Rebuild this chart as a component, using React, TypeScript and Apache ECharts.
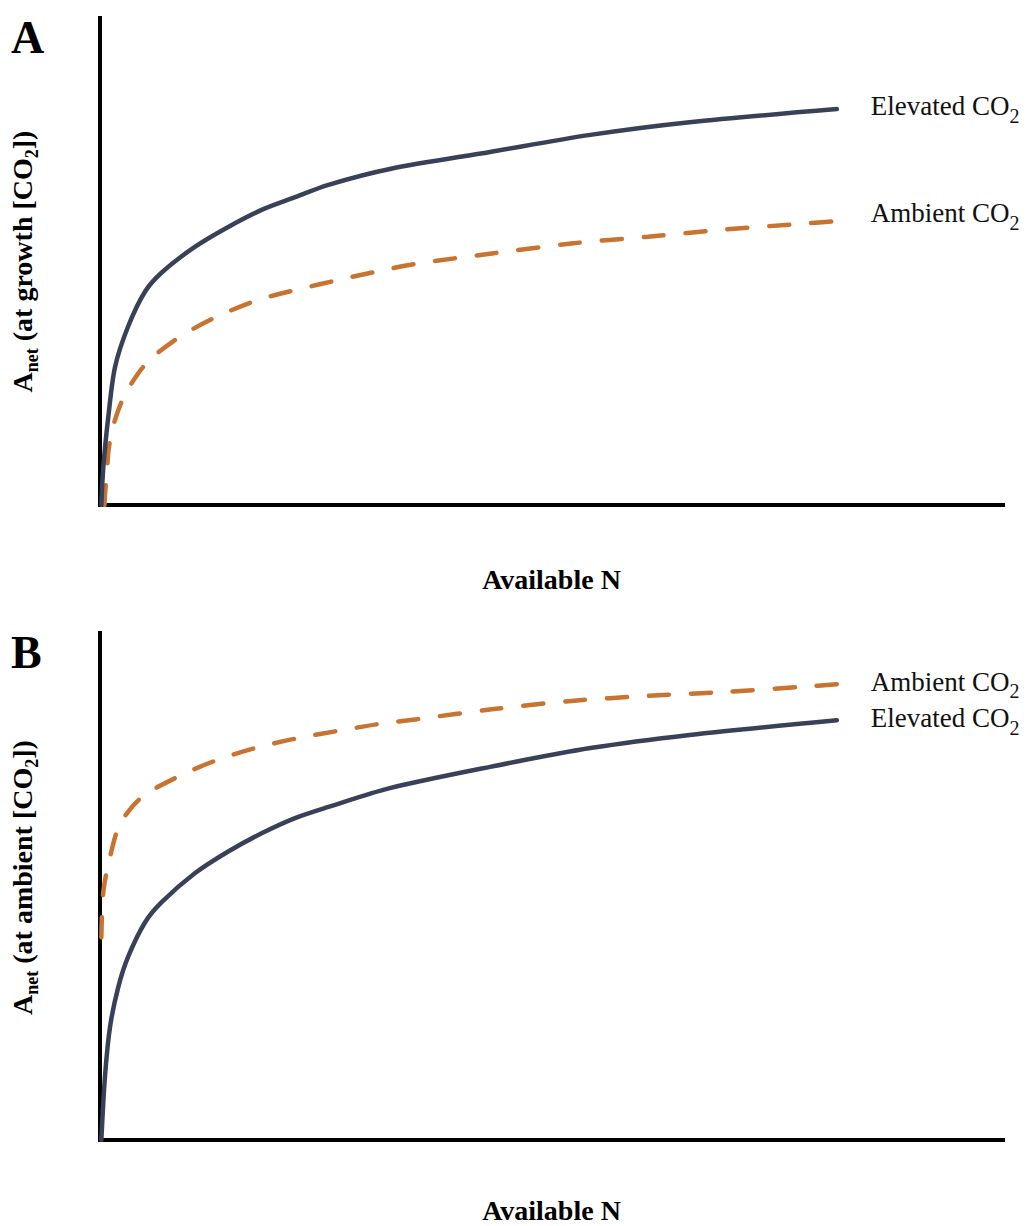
import React, { useEffect, useRef } from "react";
import * as echarts from "echarts";

// Panel A: Anet at growth [CO2]
const elevA_N = [0.15, 0.37, 0.92, 1.66, 3.1, 4.98, 6.87, 10.5, 14.2, 17.9, 21.6, 25.2, 32.1, 43.2, 54.3, 65.3, 81.6];
const elevA_Anet = [0, 7.8, 18.1, 28.3, 36.6, 43.8, 47.8, 53.0, 57.1, 60.6, 63.2, 65.7, 69.0, 72.5, 76.0, 78.6, 81.3];
const ambA_N = [0.5, 0.55, 0.8, 0.95, 1.3, 1.84, 2.58, 3.5, 4.8, 6.1, 9.05, 13.1, 17.5, 22.0, 26.4, 30.8, 34.9, 43.6, 52.2, 60.7, 69.4, 78.1, 81.6];
const ambA_Anet = [0, 2, 7.8, 11.3, 15, 18.5, 22, 25, 28.4, 30.8, 34.8, 38.8, 42.1, 44.3, 46.2, 48.0, 49.5, 51.7, 53.7, 55.1, 56.6, 57.8, 58.3];

// Panel B: Anet at ambient [CO2]
const elevB_N = [0.15, 0.55, 1.11, 2.03, 3.13, 4.98, 6.83, 10.5, 14.2, 17.9, 21.6, 25.3, 32.1, 43.2, 54.3, 65.3, 81.6];
const elevB_Anet = [0, 12.5, 22.3, 30.2, 36.2, 42.9, 46.9, 52.6, 56.9, 60.5, 63.5, 65.7, 69.4, 73.6, 77.3, 79.9, 82.8];
const ambB_N = [0.15, 0.37, 1.11, 2.21, 4.62, 9.05, 13.2, 17.6, 22.0, 26.4, 30.7, 35.1, 43.6, 52.2, 60.7, 69.4, 77.9, 81.6];
const ambB_Anet = [40.0, 49.0, 55.8, 62.3, 67.6, 72.0, 75.1, 77.5, 79.3, 80.7, 82.0, 83.0, 85.0, 86.6, 87.6, 88.4, 89.4, 89.9];

const panelLetters = ["A", "B"];
const xTitle = "Available N";
const yTitles = [
  "{b|A}{s|net}{b| (at growth [CO}{s|2}{b|])}",
  "{b|A}{s|net}{b| (at ambient [CO}{s|2}{b|])}",
];
const elevLabel = "{n|Elevated CO}{s|2}";
const ambLabel = "{n|Ambient CO}{s|2}";

const SERIF = "'Liberation Serif', 'Times New Roman', serif";
const SOLID = "#394158";
const DASH = "#c8732f";

const pairs = (xs: number[], ys: number[]) => xs.map((x, i) => [x, ys[i]]);

const labelRich = {
  n: { fontFamily: SERIF, fontSize: 27, color: "#111", lineHeight: 30 },
  s: { fontFamily: SERIF, fontSize: 20, color: "#111", lineHeight: 30, padding: [19, 0, 0, 0] },
};
const titleRich = {
  b: { fontFamily: SERIF, fontSize: 28, fontWeight: "bold", color: "#000", lineHeight: 32 },
  s: { fontFamily: SERIF, fontSize: 18, fontWeight: "bold", color: "#000", lineHeight: 32, padding: [20, 0, 0, 0] },
};

export default function App() {
  const ref = useRef<HTMLDivElement>(null);
  useEffect(() => {
    document.body.style.margin = "0";
    document.body.style.overflow = "hidden";
    const chart = echarts.init(ref.current!, null, { renderer: "svg" });

    const axisLine = { show: true, lineStyle: { color: "#000", width: 4, cap: "square" } };
    const mkX = (gridIndex: number, gap: number) => ({
      gridIndex,
      type: "value",
      min: 0,
      max: 100,
      axisLine,
      axisTick: { show: false },
      axisLabel: { show: false },
      splitLine: { show: false },
      name: xTitle,
      nameLocation: "middle",
      nameGap: gap,
      nameTextStyle: { fontFamily: SERIF, fontWeight: "bold", fontSize: 28, color: "#000" },
    });
    const mkY = (gridIndex: number, pad: number) => ({
      gridIndex,
      type: "value",
      min: 0,
      max: 100,
      axisLine,
      axisTick: { show: false },
      axisLabel: { show: false },
      splitLine: { show: false },
      name: yTitles[gridIndex],
      nameLocation: "middle",
      nameRotate: 90,
      nameGap: 62,
      nameTextStyle: { rich: titleRich, padding: [0, 0, 0, pad] },
    });
    const mkLine = (
      xi: number,
      data: number[][],
      dashed: boolean,
      label: string,
      offY: number
    ) => ({
      type: "line",
      xAxisIndex: xi,
      yAxisIndex: xi,
      data,
      showSymbol: false,
      smooth: 0.3,
      lineStyle: {
        color: dashed ? DASH : SOLID,
        width: 4.5,
        type: dashed ? [20, 22] : "solid",
        cap: "round",
      },
      endLabel: {
        show: true,
        formatter: label,
        distance: 34,
        offset: [0, offY],
        rich: labelRich,
      },
      z: dashed ? 2 : 3,
    });

    chart.setOption({
      animation: false,
      backgroundColor: "#fff",
      grid: [
        { left: 100, top: 18, width: 903, height: 487, outerBoundsMode: "none", containLabel: false },
        { left: 100, top: 633, width: 903, height: 507, outerBoundsMode: "none", containLabel: false },
      ],
      xAxis: [mkX(0, 60), mkX(1, 56)],
      yAxis: [mkY(0, 0), mkY(1, 18)],
      graphic: panelLetters.map((t, i) => ({
        type: "text",
        left: 11,
        top: i === 0 ? 14 : 629,
        style: { text: t, fontFamily: SERIF, fontWeight: "bold", fontSize: 46, fill: "#000" },
      })),
      series: [
        mkLine(0, pairs(ambA_N, ambA_Anet), true, ambLabel, -8),
        mkLine(0, pairs(elevA_N, elevA_Anet), false, elevLabel, -3),
        mkLine(1, pairs(ambB_N, ambB_Anet), true, ambLabel, -2.5),
        mkLine(1, pairs(elevB_N, elevB_Anet), false, elevLabel, -2),
      ],
    });
    return () => chart.dispose();
  }, []);
  return <div ref={ref} style={{ width: 1030, height: 1226 }} />;
}
